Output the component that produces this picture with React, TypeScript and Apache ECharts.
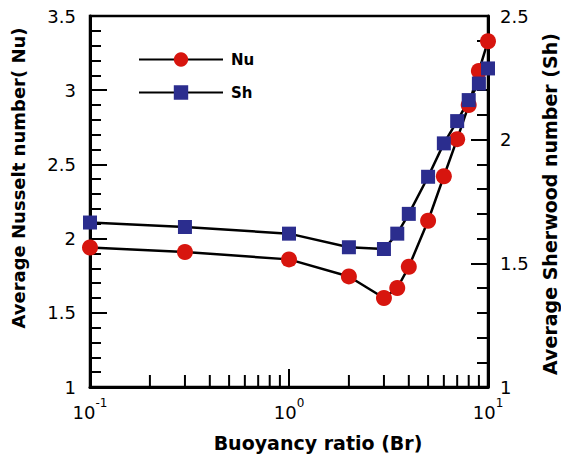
import React, { useEffect, useRef } from "react";
import * as echarts from "echarts";

const brValues = [0.1, 0.3, 1, 2, 3, 3.5, 4, 5, 6, 7, 8, 9, 10];
const nuValues = [1.94, 1.91, 1.86, 1.745, 1.6, 1.667, 1.81, 2.12, 2.42, 2.67, 2.9, 3.13, 3.33];
const shValues = [1.665, 1.647, 1.62, 1.565, 1.558, 1.62, 1.7, 1.85, 1.985, 2.075, 2.16, 2.227, 2.288];
const minorX = [0.2, 0.3, 0.4, 0.5, 0.6, 0.7, 0.8, 0.9, 2, 3, 4, 5, 6, 7, 8, 9];
const NU_MIN = 1, NU_MAX = 3.5, SH_MIN = 1, SH_MAX = 2.5;

const FONT = '"DejaVu Sans", sans-serif';

export default function App() {
  const ref = useRef<HTMLDivElement>(null);
  useEffect(() => {
    if (!ref.current) return;
    const chart = echarts.init(ref.current, null, { renderer: "svg" });
    chart.setOption({
      animation: false,
      backgroundColor: "#fff",
      grid: { left: 90, right: 73, top: 16, bottom: 75, show: true, borderColor: "#000", borderWidth: 2.5 },
      legend: {
        data: ["Nu", "Sh"],
        orient: "vertical",
        left: 133,
        top: 47,
        itemWidth: 84,
        itemHeight: 18,
        itemGap: 18,
        textStyle: { fontFamily: FONT, fontWeight: "bold", fontSize: 15, color: "#000", padding: [0, 0, 0, 3] },
      },
      xAxis: {
        type: "log",
        logBase: 10,
        min: 0.1,
        max: 10,
        axisLine: { lineStyle: { color: "#000", width: 3 } },
        axisTick: { inside: true, length: 18, lineStyle: { color: "#000", width: 2 } },
        splitLine: { show: false },
        axisLabel: {
          margin: 10,
          formatter: (v: number) => `{b|10}{s|${Math.round(Math.log10(v))}}`,
          rich: {
            b: { fontFamily: FONT, fontSize: 18, color: "#000", verticalAlign: "bottom", lineHeight: 24 },
            s: { fontFamily: FONT, fontSize: 12, color: "#000", verticalAlign: "top", lineHeight: 24 },
          },
        },
      },
      yAxis: [
        {
          type: "value",
          min: NU_MIN,
          max: NU_MAX,
          interval: 0.5,
          axisLine: { show: true, lineStyle: { color: "#000", width: 3 } },
          axisTick: { inside: true, length: 17, lineStyle: { color: "#000", width: 2 } },
          minorTick: { show: true, splitNumber: 5, length: 11, lineStyle: { color: "#000", width: 2 } },
          splitLine: { show: false },
          axisLabel: { margin: 14, fontFamily: FONT, fontSize: 18, color: "#000" },
        },
        {
          type: "value",
          position: "right",
          min: SH_MIN,
          max: SH_MAX,
          interval: 0.5,
          axisLine: { show: true, lineStyle: { color: "#000", width: 3 } },
          axisTick: { inside: true, length: 17, lineStyle: { color: "#000", width: 2 } },
          minorTick: { show: true, splitNumber: 5, length: 11, lineStyle: { color: "#000", width: 2 } },
          splitLine: { show: false },
          axisLabel: { margin: 12, fontFamily: FONT, fontSize: 18, color: "#000" },
        },
      ],
      graphic: [
        {
          type: "text",
          x: 18,
          y: 178,
          rotation: Math.PI / 2,
          style: { text: "Average Nusselt number( Nu)", align: "center", verticalAlign: "middle", font: `bold 18px ${FONT}`, fill: "#000" },
        },
        {
          type: "text",
          x: 550,
          y: 204,
          rotation: Math.PI / 2,
          style: { text: "Average Sherwood number (Sh)", align: "center", verticalAlign: "middle", font: `bold 19px ${FONT}`, fill: "#000" },
        },
        {
          type: "text",
          x: 318,
          y: 443,
          style: { text: "Buoyancy ratio (Br)", align: "center", verticalAlign: "middle", font: `bold 19px ${FONT}`, fill: "#000" },
        },
      ],
      series: [
        {
          type: "custom",
          name: "minorX",
          xAxisIndex: 0,
          yAxisIndex: 0,
          silent: true,
          clip: false,
          data: minorX.map((v) => [v, NU_MIN]),
          renderItem: (params: any, api: any) => {
            const p = api.coord([api.value(0), api.value(1)]);
            return {
              type: "line",
              shape: { x1: p[0], y1: p[1], x2: p[0], y2: p[1] - 12 },
              style: { stroke: "#000", lineWidth: 2 },
            };
          },
        },
        {
          name: "Nu",
          type: "line",
          yAxisIndex: 0,
          data: brValues.map((b, i) => [b, nuValues[i]]),
          symbol: "circle",
          symbolSize: 16,
          lineStyle: { color: "#000", width: 2.5 },
          itemStyle: { color: "#d7150e" },
        },
        {
          name: "Sh",
          type: "line",
          yAxisIndex: 1,
          data: brValues.map((b, i) => [b, shValues[i]]),
          symbol: "rect",
          symbolSize: 14,
          lineStyle: { color: "#000", width: 2.5 },
          itemStyle: { color: "#2b2d8e" },
        },
      ],
    });
    return () => chart.dispose();
  }, []);
  return <div ref={ref} style={{ position: "fixed", left: 0, top: 0, width: 561, height: 462 }} />;
}
